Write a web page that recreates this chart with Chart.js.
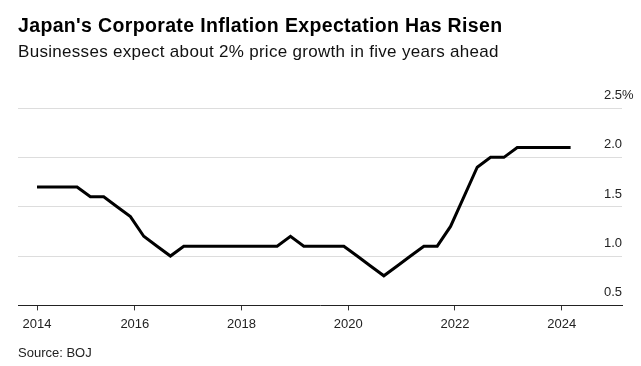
<!DOCTYPE html>
<html>
<head>
<meta charset="utf-8">
<script src="https://cdn.jsdelivr.net/npm/chart.js@4.4.1/dist/chart.umd.min.js"></script>
<style>
  html, body { margin: 0; padding: 0; background: #fff; }
  body { width: 641px; height: 366px; position: relative; overflow: hidden; font-family: "Liberation Sans", Arial, sans-serif; }
  #title { position: absolute; left: 18px; top: 14px; font-size: 19.5px; line-height: 1.149; font-weight: bold; color: #000; white-space: nowrap; letter-spacing: 0.35px; }
  #subtitle { position: absolute; left: 18px; top: 42px; font-size: 17px; line-height: 1.149; color: #111; white-space: nowrap; letter-spacing: 0.3px; }
  #source { position: absolute; left: 18px; top: 346px; font-size: 13px; line-height: 1.149; color: #222; white-space: nowrap; }
  #wrap { position: absolute; left: 0; top: 0; width: 641px; height: 366px; }
</style>
</head>
<body>
<div id="wrap"><canvas id="c" width="641" height="366"></canvas></div>
<div id="title">Japan's Corporate Inflation Expectation Has Risen</div>
<div id="subtitle">Businesses expect about 2% price growth in five years ahead</div>
<div id="source">Source: BOJ</div>
<script>
// Tankan survey quarters (Mar, Jun, Sep, Dec) from Mar 2014 to Mar 2024
const years = [2014,2014,2014,2014,2015,2015,2015,2015,2016,2016,2016,2016,2017,2017,2017,2017,
               2018,2018,2018,2018,2019,2019,2019,2019,2020,2020,2020,2020,2021,2021,2021,2021,
               2022,2022,2022,2022,2023,2023,2023,2023,2024];
const months = [3,6,9,12,3,6,9,12,3,6,9,12,3,6,9,12,
                3,6,9,12,3,6,9,12,3,6,9,12,3,6,9,12,
                3,6,9,12,3,6,9,12,3];
// 5-year-ahead inflation expectation, %
const expectation = [1.7,1.7,1.7,1.7,1.6,1.6,1.5,1.4,1.2,1.1,1.0,1.1,1.1,1.1,1.1,1.1,
                     1.1,1.1,1.1,1.2,1.1,1.1,1.1,1.1,1.0,0.9,0.8,0.9,1.0,1.1,1.1,1.3,
                     1.6,1.9,2.0,2.0,2.1,2.1,2.1,2.1,2.1];
const xTickYears = [2014, 2016, 2018, 2020, 2022, 2024];
const xTickLabels = ['2014', '2016', '2018', '2020', '2022', '2024'];
const yTickValues = [0.5, 1.0, 1.5, 2.0, 2.5];
const yTickLabels = ['0.5', '1.0', '1.5', '2.0', '2.5'];

const points = years.map((y, i) => ({ x: y + (months[i] - 1) / 12, y: expectation[i] }));
const firstX = points[0].x;

const yLabelPlugin = {
  id: 'yLabels',
  afterDraw(chart) {
    const ctx = chart.ctx;
    const ys = chart.scales.y;
    const right = chart.chartArea.right;
    ctx.save();
    ctx.font = '13px "Liberation Sans", Arial, sans-serif';
    ctx.fillStyle = '#222';
    ctx.textBaseline = 'alphabetic';
    yTickValues.forEach((v, i) => {
      const py = ys.getPixelForValue(v) - 9;
      ctx.textAlign = 'right';
      ctx.fillText(yTickLabels[i], right, py);
      if (i === yTickValues.length - 1) {
        ctx.textAlign = 'left';
        ctx.fillText('%', right, py);
      }
    });
    ctx.restore();
  }
};

new Chart(document.getElementById('c'), {
  type: 'line',
  data: {
    datasets: [{
      data: points,
      borderColor: '#000',
      borderWidth: 3,
      pointRadius: 0,
      tension: 0,
      borderJoinStyle: 'miter',
      fill: false
    }]
  },
  options: {
    responsive: false,
    animation: false,
    events: [],
    layout: { padding: { left: 18, right: 19, top: 108, bottom: 28 } },
    plugins: { legend: { display: false }, tooltip: { enabled: false } },
    scales: {
      x: {
        type: 'linear',
        min: 2013.81,
        max: 2025.13,
        afterBuildTicks(scale) {
          scale.ticks = xTickYears.map((y, i) => ({ value: i === 0 ? firstX : y }));
        },
        ticks: {
          autoSkip: false,
          maxRotation: 0,
          padding: 6,
          color: '#222',
          font: { family: '"Liberation Sans", Arial, sans-serif', size: 13 },
          callback(value, index) { return xTickLabels[index]; }
        },
        grid: { drawOnChartArea: false, drawTicks: true, tickLength: 5, color: '#333', lineWidth: 1 },
        border: { display: true, color: '#222', width: 1 }
      },
      y: {
        position: 'right',
        min: 0.5,
        max: 2.5,
        afterBuildTicks(scale) {
          scale.ticks = yTickValues.map(v => ({ value: v }));
        },
        ticks: { display: false },
        grid: { color: '#ddd', lineWidth: 1, drawTicks: false },
        border: { display: false }
      }
    }
  },
  plugins: [yLabelPlugin]
});
</script>
</body>
</html>
